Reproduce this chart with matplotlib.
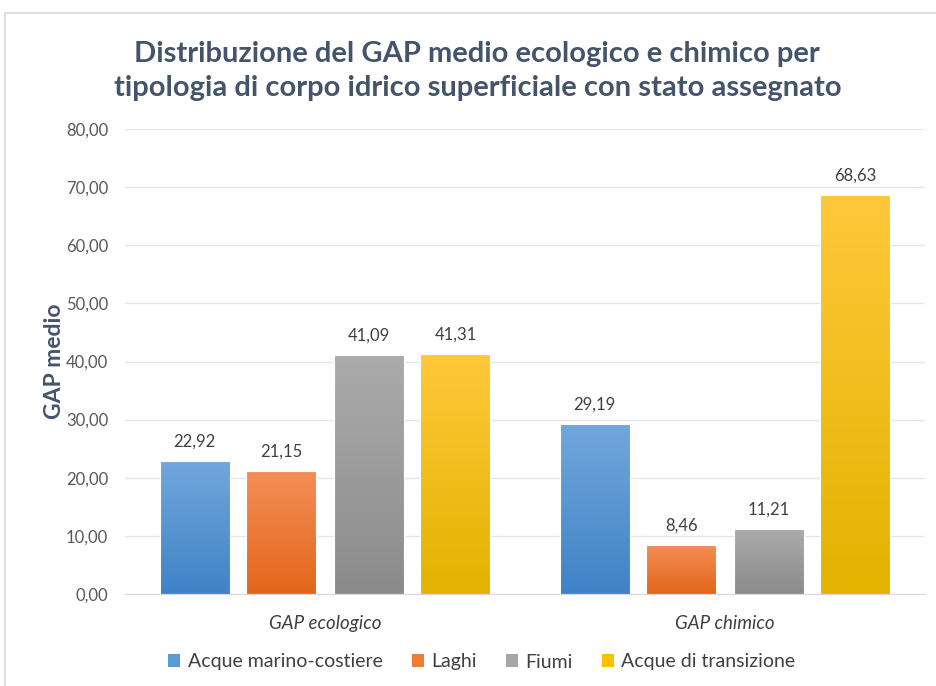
import numpy as np
import matplotlib
matplotlib.use("Agg")
import matplotlib.pyplot as plt
from matplotlib.patches import Rectangle
from matplotlib.colors import LinearSegmentedColormap

# values per indicator, one list per water body type
categories = ["GAP ecologico", "GAP chimico"]
series = ["Acque marino-costiere", "Laghi", "Fiumi", "Acque di transizione"]
marino_costiere = [22.92, 29.19]
laghi = [21.15, 8.46]
fiumi = [41.09, 11.21]
transizione = [41.31, 68.63]
yticks = [0, 10, 20, 30, 40, 50, 60, 70, 80]

values = [marino_costiere, laghi, fiumi, transizione]
# top / bottom colours for the gradient fill
grads = [("#72A7DC", "#3F83C6"),
         ("#F48E58", "#E3661A"),
         ("#ABABAB", "#8B8B8B"),
         ("#FFC83A", "#E2B300")]
legend_colors = ["#5B9BD5", "#ED7D31", "#A5A5A5", "#FFC000"]

plt.rcParams['font.family'] = ['Lato', 'DejaVu Sans']

fig = plt.figure(figsize=(9.36, 6.86), dpi=100)
ax = fig.add_axes([125/936, 1 - 594/686, 800/936, 465/686])

width = 0.175
offsets = [-0.326, -0.109, 0.109, 0.326]
x = np.arange(len(categories))

for i, vals in enumerate(values):
    cmap = LinearSegmentedColormap.from_list("g%d" % i, [grads[i][1], grads[i][0]])
    for j, v in enumerate(vals):
        left = x[j] + offsets[i] - width / 2
        rect = Rectangle((left, 0), width, v, facecolor="none",
                         edgecolor="white", linewidth=0.8, zorder=3)
        ax.add_patch(rect)
        grad = np.linspace(0, 1, 256).reshape(-1, 1)
        im = ax.imshow(grad, cmap=cmap, origin="lower", aspect="auto",
                       extent=(left, left + width, 0, v), zorder=2)
        im.set_clip_path(rect)
        ax.text(x[j] + offsets[i], v + 2.0, f"{v:.2f}".replace(".", ","),
                ha="center", va="bottom", fontsize=12, color="#404040")

ax.set_xlim(-0.5, 1.5)
ax.set_ylim(0, 80)
ax.set_yticks(yticks)
ax.set_yticklabels([f"{t:.2f}".replace(".", ",") for t in yticks],
                   fontsize=12, color="#595959")
ax.set_xticks(x)
ax.set_xticklabels(categories, fontsize=13.5, color="#404040", style="italic")
ax.tick_params(axis="both", length=0, pad=12)
ax.tick_params(axis="x", pad=15)
ax.grid(axis="y", color="#E3E6EC", linewidth=1)
ax.set_axisbelow(True)
for s in ["top", "right", "left"]:
    ax.spines[s].set_visible(False)
ax.spines["bottom"].set_color("#D9D9D9")

ax.set_ylabel("GAP medio", fontsize=16.5, fontweight="bold", color="#44546A", labelpad=1)

fig.text(0.51, 1 - 71/686, "Distribuzione del GAP medio ecologico e chimico per\n"
         "tipologia di corpo idrico superficiale con stato assegnato",
         ha="center", va="center", fontsize=21, fontweight="bold",
         color="#44546A", linespacing=1.38)

handles = [Rectangle((0, 0), 1, 1, facecolor=c) for c in legend_colors]
fig.legend(handles, series, loc="center", bbox_to_anchor=(482/936, 1 - 662/686),
           ncol=4, frameon=False, fontsize=14, handlelength=0.6, handleheight=0.6,
           handletextpad=0.4, columnspacing=1.5, labelcolor="#404040")

# chart frame
fig.add_artist(Rectangle((5/936, -0.05), 1.0, 1 - 13/686 + 0.05, transform=fig.transFigure,
                         facecolor="none", edgecolor="#D9DEE6", linewidth=1.5))

fig.savefig("out.png", dpi=100, facecolor="white")
